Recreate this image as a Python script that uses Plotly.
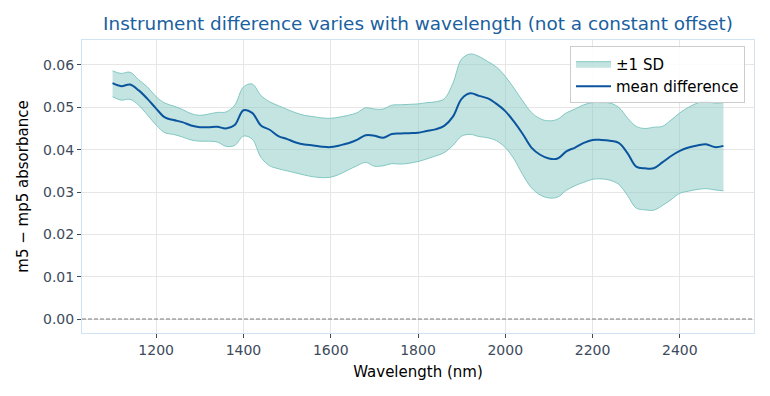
import plotly.graph_objects as go

wavelength = list(range(1100, 2501, 20))

mean_diff = [0.0557, 0.0550, 0.0554, 0.0540, 0.0520, 0.0497, 0.0476, 0.0470, 0.0465, 0.0457,
             0.0453, 0.0453, 0.0454, 0.0450, 0.0458, 0.0493, 0.0487, 0.0457, 0.0447, 0.0432,
             0.0425, 0.0417, 0.0412, 0.0410, 0.0407, 0.0406, 0.0410, 0.0415, 0.0423, 0.0434,
             0.0433, 0.0428, 0.0437, 0.0438, 0.0439, 0.0440, 0.0444, 0.0448, 0.0456, 0.0478,
             0.0520, 0.0533, 0.0527, 0.0521, 0.0508, 0.0491, 0.0466, 0.0437, 0.0405, 0.0388,
             0.0379, 0.0379, 0.0396, 0.0405, 0.0416, 0.0423, 0.0423, 0.0421, 0.0416, 0.0392,
             0.0360, 0.0356, 0.0356, 0.0370, 0.0385, 0.0397, 0.0405, 0.0410, 0.0413, 0.0406,
             0.0409]

band_high = [0.0586, 0.0580, 0.0583, 0.0565, 0.0548, 0.0525, 0.0510, 0.0503, 0.0495, 0.0485,
             0.0481, 0.0484, 0.0488, 0.0489, 0.0505, 0.0548, 0.0555, 0.0528, 0.0513, 0.0504,
             0.0495, 0.0487, 0.0481, 0.0478, 0.0475, 0.0474, 0.0477, 0.0481, 0.0487, 0.0499,
             0.0496, 0.0496, 0.0505, 0.0506, 0.0507, 0.0508, 0.0511, 0.0513, 0.0520, 0.0557,
             0.0614, 0.0626, 0.0620, 0.0608, 0.0595, 0.0573, 0.0545, 0.0515, 0.0488, 0.0473,
             0.0468, 0.0472, 0.0487, 0.0496, 0.0506, 0.0511, 0.0511, 0.0510, 0.0500, 0.0475,
             0.0455, 0.0450, 0.0453, 0.0455, 0.0470, 0.0487, 0.0500, 0.0510, 0.0515, 0.0510,
             0.0511]

band_low = [0.0525, 0.0517, 0.0519, 0.0505, 0.0482, 0.0458, 0.0440, 0.0436, 0.0430, 0.0423,
            0.0420, 0.0420, 0.0418, 0.0408, 0.0410, 0.0432, 0.0425, 0.0382, 0.0362, 0.0355,
            0.0350, 0.0345, 0.0340, 0.0336, 0.0334, 0.0335, 0.0342, 0.0352, 0.0362, 0.0370,
            0.0361, 0.0362, 0.0367, 0.0366, 0.0368, 0.0372, 0.0378, 0.0385, 0.0393, 0.0410,
            0.0432, 0.0436, 0.0431, 0.0428, 0.0421, 0.0405, 0.0378, 0.0341, 0.0310, 0.0293,
            0.0286, 0.0288, 0.0304, 0.0315, 0.0323, 0.0330, 0.0331, 0.0328, 0.0318, 0.0292,
            0.0262, 0.0258, 0.0257, 0.0268, 0.0282, 0.0297, 0.0302, 0.0306, 0.0308, 0.0305,
            0.0303]

x_ticks = [1200, 1400, 1600, 1800, 2000, 2200, 2400]
y_ticks = [0.00, 0.01, 0.02, 0.03, 0.04, 0.05, 0.06]

FONT = "DejaVu Sans"
fill_col = "rgba(137,201,196,0.5)"
edge_col = "rgba(120,195,190,0.9)"
mean_col = "#0b559e"

fig = go.Figure()
fig.add_trace(go.Scatter(x=wavelength, y=band_low, mode="lines",
                         line=dict(color=edge_col, width=1, shape="spline"),
                         showlegend=False, hoverinfo="skip"))
fig.add_trace(go.Scatter(x=wavelength, y=band_high, mode="lines", fill="tonexty",
                         fillcolor=fill_col, line=dict(color=edge_col, width=1, shape="spline"),
                         name="±1 SD"))
fig.add_trace(go.Scatter(x=wavelength, y=mean_diff, mode="lines",
                         line=dict(color=mean_col, width=2, shape="spline"),
                         name="mean difference"))

fig.add_hline(y=0, line=dict(color="#7a7a7a", width=1, dash="4px,2px"))

axis_common = dict(showgrid=True, gridcolor="#e6e6e6", gridwidth=1,
                   showline=True, linecolor="#cfe3f5", linewidth=1, mirror=True,
                   ticks="outside", ticklen=4, tickcolor="#3d4a5c",
                   tickfont=dict(family=FONT, size=14, color="#3d4a5c"),
                   zeroline=False)

fig.update_layout(
    width=770, height=396,
    margin=dict(l=82, r=16, t=40, b=63),
    paper_bgcolor="white", plot_bgcolor="white",
    title=dict(text="Instrument difference varies with wavelength (not a constant offset)",
               xref="paper", x=0.5, xanchor="center", y=0.94, yanchor="middle",
               font=dict(family=FONT, size=18.4, color="#1a5fa0")),
    xaxis=dict(range=[1030, 2570], tickvals=x_ticks,
               title=dict(text="Wavelength (nm)", font=dict(family=FONT, size=15, color="black"), standoff=9),
               **axis_common),
    yaxis=dict(range=[-0.0033, 0.0659], tickvals=y_ticks, tickformat=".2f",
               title=dict(text="m5 − mp5 absorbance", font=dict(family=FONT, size=15, color="black"), standoff=10),
               **axis_common),
    legend=dict(x=0.9866, y=0.978, xanchor="right", yanchor="top", traceorder="normal",
                bgcolor="rgba(255,255,255,0.85)", bordercolor="#cccccc", borderwidth=1,
                font=dict(family=FONT, size=15, color="black"),
                itemwidth=35, tracegroupgap=0),
    font=dict(family=FONT),
)

fig.write_html("out.html")
